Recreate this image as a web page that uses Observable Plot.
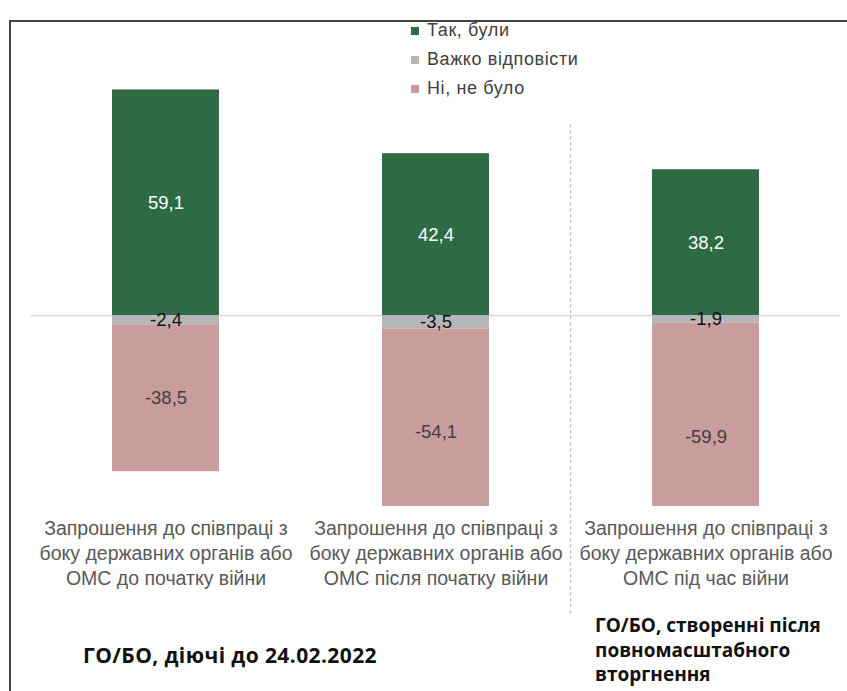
<!DOCTYPE html>
<html><head><meta charset="utf-8">
<script src="https://cdn.jsdelivr.net/npm/d3@7"></script>
<script src="https://cdn.jsdelivr.net/npm/@observablehq/plot@0.6"></script>
<style>
body{margin:0;background:#fff;}
#wrap{position:relative;width:847px;height:691px;overflow:hidden;font-family:"Liberation Sans",Arial,sans-serif;}
#frame{position:absolute;left:9px;top:20px;right:-10px;bottom:-10px;border-top:2px solid #444;border-left:2px solid #444;}
#chart{position:absolute;left:0;top:0;}
#legend{position:absolute;left:411px;top:16px;}
.li{display:flex;align-items:center;height:29px;font-size:18px;letter-spacing:0.6px;color:#404040;}
.sw{width:8px;height:8px;margin-right:8px;}
.group{position:absolute;font-family:"Open Sans",sans-serif;font-weight:700;color:#111;white-space:nowrap;}
</style></head>
<body><div id="wrap"><div id="frame"></div><div id="chart"></div><div id="legend"></div>
<div class="group" style="left:83px;top:641px;font-size:21px;line-height:28px;letter-spacing:0.4px;">ГО/БО, діючі до 24.02.2022</div>
<div class="group" style="left:595px;top:613px;font-size:19px;line-height:24.5px;">ГО/БО, створенні після<br>повномасштабного<br>вторгнення</div>
</div>
<script>
const categories = [
  "Запрошення до співпраці з\nбоку державних органів або\nОМС до початку війни",
  "Запрошення до співпраці з\nбоку державних органів або\nОМС після початку війни",
  "Запрошення до співпраці з\nбоку державних органів або\nОМС під час війни"
];
const series = ["Так, були", "Важко відповісти", "Ні, не було"];
const seriesColors = ["#2e6b44", "#b3b7b7", "#c99c9d"];
const labelColors = ["#ffffff", "#111111", "#404040"];
const yesValues = [59.1, 42.4, 38.2];
const hardValues = [-2.4, -3.5, -1.9];
const noValues = [-38.5, -54.1, -59.9];
const yDomain = [-50, 60];

const rows = categories.flatMap((c, i) => [
  {cat: c, series: series[0], value: yesValues[i]},
  {cat: c, series: series[1], value: hardValues[i]},
  {cat: c, series: series[2], value: noValues[i]}
]);
const fmt = v => v.toFixed(1).replace(".", ",");

function separator(index, scales) {
  const x = scales.x, y = scales.y;
  const bw = x.bandwidth ? x.bandwidth() : 0;
  const xm = (x(categories[1]) + bw + x(categories[2])) / 2;
  return d3.create("svg:line")
    .attr("x1", xm).attr("x2", xm)
    .attr("y1", y(50)).attr("y2", y(-78))
    .attr("stroke", "#b4b4d6").attr("stroke-width", 1.2)
    .attr("stroke-dasharray", "3,3").node();
}

const labelMark = (k) => Plot.text(rows, Plot.stackY({
  x: "cat", y: "value", z: "series",
  text: d => d.series === series[k] ? fmt(d.value) : null,
  fill: labelColors[k], fontSize: 18.5, fontFamily: "Liberation Sans, Arial, sans-serif"
}));

const chart = Plot.plot({
  width: 847, height: 691,
  marginTop: 86, marginBottom: 185, marginLeft: 30, marginRight: 7,
  style: {background: "transparent", fontFamily: "Liberation Sans, Arial, sans-serif"},
  x: {domain: categories, paddingInner: 0.604, paddingOuter: 0.302},
  y: {domain: yDomain, axis: null},
  color: {domain: series, range: seriesColors},
  marks: [
    Plot.ruleY([0], {stroke: "#d4d4dc", strokeWidth: 1.2}),
    Plot.barY(rows, {x: "cat", y: "value", fill: "series", z: "series", clip: true}),
    labelMark(0), labelMark(1), labelMark(2),
    separator,
    Plot.axisX({tickSize: 0, tickPadding: 11, fontSize: 19.5, lineHeight: 25 / 19.5, color: "#595959", label: null})
  ]
});
document.getElementById("chart").appendChild(chart);

const legend = document.getElementById("legend");
series.forEach((s, i) => {
  const li = document.createElement("div");
  li.className = "li";
  li.innerHTML = `<span class="sw" style="background:${seriesColors[i]}"></span><span>${s}</span>`;
  legend.appendChild(li);
});
</script>
</body></html>
